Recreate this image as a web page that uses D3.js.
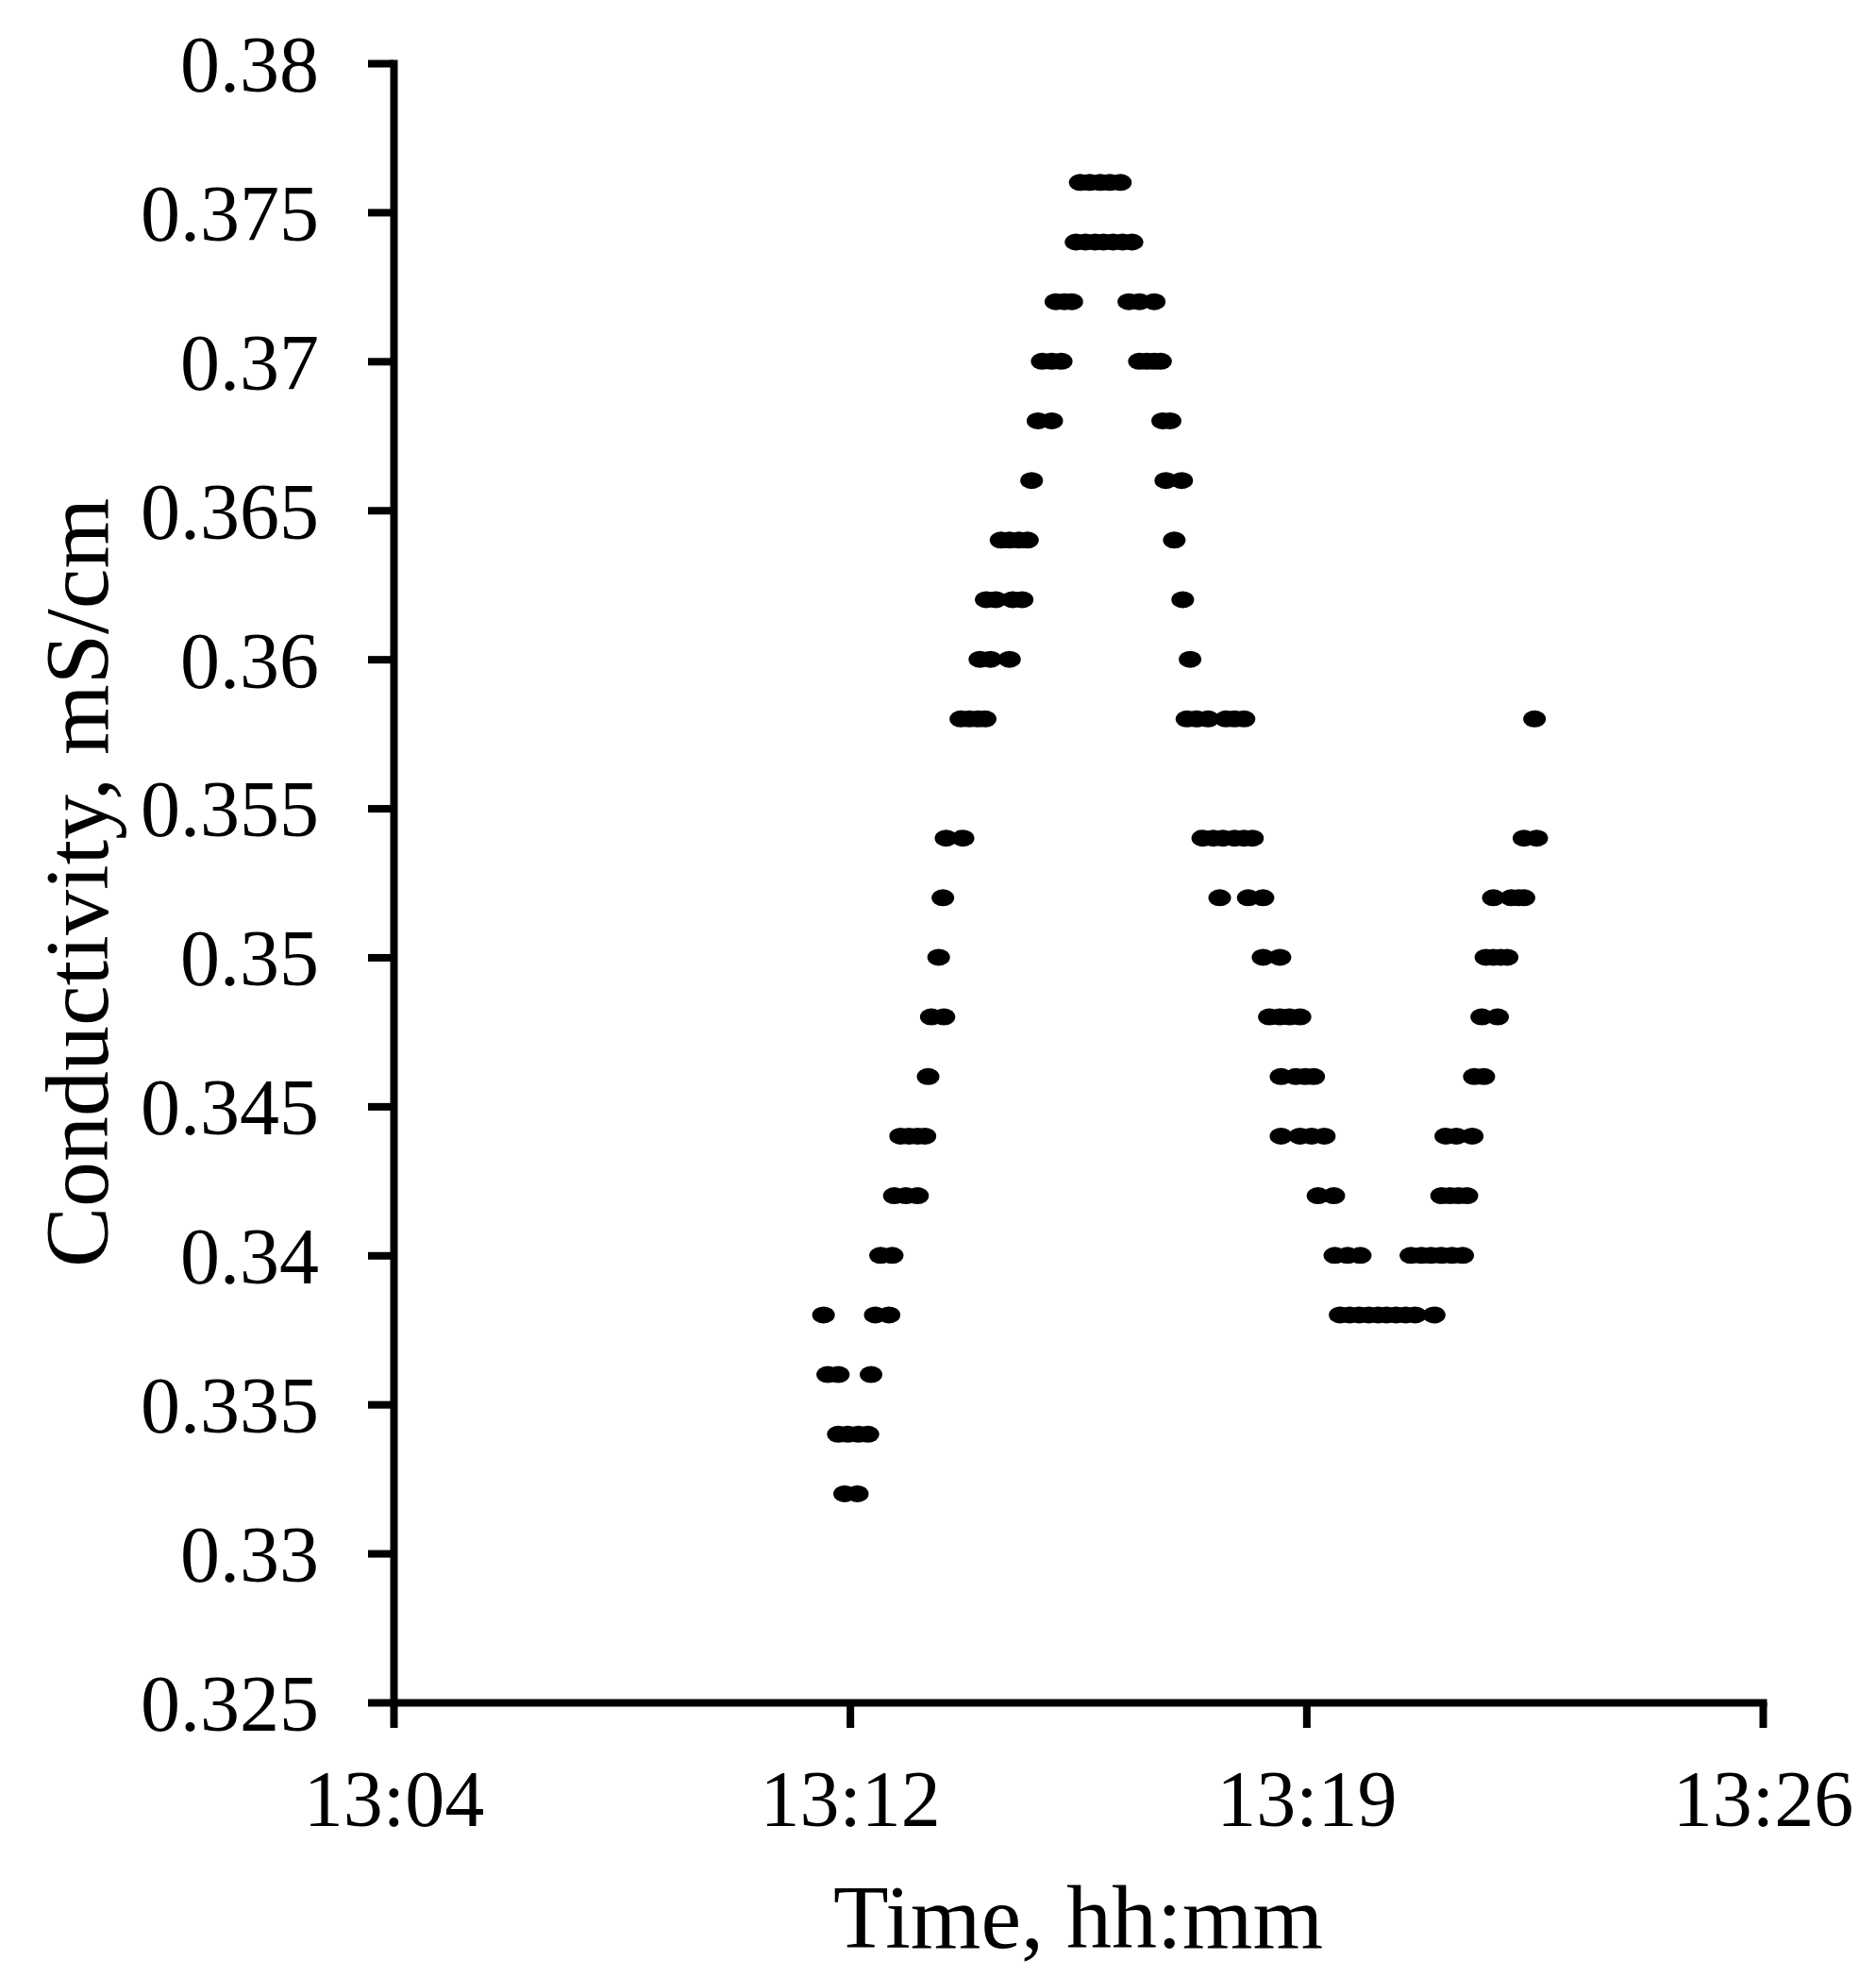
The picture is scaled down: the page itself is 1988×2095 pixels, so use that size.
<!DOCTYPE html>
<html><head><meta charset="utf-8">
<script src="https://cdn.jsdelivr.net/npm/d3@7"></script>
<style>body{margin:0;background:#fff}svg{display:block}</style>
</head><body>
<svg id="chart" width="1988" height="2095"></svg>
<script>
// Tick positions and labels
const xTickTimes = ["13:04:48", "13:12:00", "13:19:12", "13:26:24"];
const yTickValues = [0.325, 0.33, 0.335, 0.34, 0.345, 0.35, 0.355, 0.36, 0.365, 0.37, 0.375, 0.38];
const xTitle = "Time, hh:mm";
const yTitle = "Conductivity, mS/cm";

// Conductivity levels (mS/cm) and the times at which each level was recorded
const levels = [0.332, 0.334, 0.336, 0.338, 0.340, 0.342, 0.344, 0.346, 0.348, 0.350, 0.352,
                0.354, 0.358, 0.360, 0.362, 0.364, 0.366, 0.368, 0.370, 0.372, 0.374, 0.376];
const levelTimes = [
  ["13:11:55","13:12:07"],
  ["13:11:49","13:11:58","13:12:08","13:12:17"],
  ["13:11:39","13:11:49","13:12:20"],
  ["13:11:35","13:12:24","13:12:37","13:19:44","13:19:53","13:20:02","13:20:11","13:20:20","13:20:28","13:20:37","13:20:46","13:20:55","13:21:13"],
  ["13:12:29","13:12:40","13:19:39","13:19:51","13:20:03","13:20:51","13:21:01","13:21:10","13:21:20","13:21:30","13:21:40"],
  ["13:12:42","13:12:53","13:13:04","13:19:23","13:19:38","13:21:20","13:21:28","13:21:36","13:21:44"],
  ["13:12:48","13:12:56","13:13:04","13:13:11","13:18:48","13:19:06","13:19:17","13:19:29","13:21:24","13:21:34","13:21:49"],
  ["13:13:14","13:18:48","13:19:02","13:19:11","13:19:19","13:21:51","13:22:00"],
  ["13:13:17","13:13:29","13:18:37","13:18:47","13:18:56","13:19:06","13:21:58","13:22:13"],
  ["13:13:24","13:18:31","13:18:47","13:22:02","13:22:09","13:22:16","13:22:22"],
  ["13:13:28","13:17:50","13:18:17","13:18:31","13:22:09","13:22:26","13:22:33","13:22:38"],
  ["13:13:31","13:13:47","13:17:34","13:17:44","13:17:53","13:18:04","13:18:13","13:18:21","13:22:38","13:22:50"],
  ["13:13:45","13:13:53","13:14:01","13:14:08","13:17:19","13:17:28","13:17:39","13:17:56","13:18:04","13:18:13","13:22:48"],
  ["13:14:03","13:14:13","13:14:31","13:17:22"],
  ["13:14:09","13:14:18","13:14:34","13:14:43","13:17:15"],
  ["13:14:23","13:14:31","13:14:40","13:14:48","13:17:07"],
  ["13:14:52","13:16:59","13:17:14"],
  ["13:14:58","13:15:11","13:16:56","13:17:03"],
  ["13:15:02","13:15:11","13:15:20","13:16:34","13:16:41","13:16:48","13:16:54"],
  ["13:15:15","13:15:23","13:15:30","13:16:24","13:16:34","13:16:48"],
  ["13:15:34","13:15:43","13:15:52","13:16:00","13:16:09","13:16:18","13:16:27"],
  ["13:15:38","13:15:47","13:15:57","13:16:06","13:16:16"]
];

const parseTime = d3.timeParse("%H:%M:%S");
const points = [];
levels.forEach((v, i) => levelTimes[i].forEach(t => points.push({ t: parseTime(t), v })));

const svg = d3.select("#chart");
const mLeft = 417, mRight = 1868, mTop = 67, mBottom = 1804;
const font = "'Liberation Serif', 'Times New Roman', serif";

const xTicks = xTickTimes.map(parseTime);
const x = d3.scaleTime().domain([xTicks[0], xTicks[xTicks.length - 1]]).range([mLeft, mRight]);
const y = d3.scaleLinear().domain([0.325, 0.38]).range([mBottom, mTop]);

const fmtY = v => String(+v.toFixed(3));

const gy = svg.append("g").attr("transform", `translate(${mLeft},0)`)
  .call(d3.axisLeft(y).tickValues(yTickValues).tickFormat(fmtY).tickSize(27).tickSizeOuter(0).tickPadding(52));
const gx = svg.append("g").attr("transform", `translate(0,${mBottom})`)
  .call(d3.axisBottom(x).tickValues(xTicks).tickFormat(d3.timeFormat("%H:%M")).tickSize(27).tickSizeOuter(0));

[gx, gy].forEach(g => {
  g.select(".domain").attr("stroke", "#000").attr("stroke-width", 8).attr("stroke-linecap", "square");
  g.selectAll(".tick line").attr("stroke", "#000").attr("stroke-width", 8);
  g.selectAll(".tick text").attr("fill", "#000").style("font-family", font).style("font-size", "84px");
});
gy.selectAll(".tick text").attr("dy", "0.35em");
gx.selectAll(".tick text").attr("y", 131).attr("dy", 0);

svg.append("g").selectAll("ellipse").data(points).join("ellipse")
  .attr("cx", d => x(d.t)).attr("cy", d => y(d.v))
  .attr("rx", 12).attr("ry", 9).attr("fill", "#000");

svg.append("text").attr("x", (mLeft + mRight) / 2).attr("y", 2064)
  .attr("text-anchor", "middle").style("font-family", font).style("font-size", "96px")
  .attr("fill", "#000").text(xTitle);

svg.append("text").attr("transform", `translate(114,${(mTop + mBottom) / 2}) rotate(-90)`)
  .attr("text-anchor", "middle").style("font-family", font).style("font-size", "96px")
  .attr("fill", "#000").text(yTitle);
</script>
</body></html>
